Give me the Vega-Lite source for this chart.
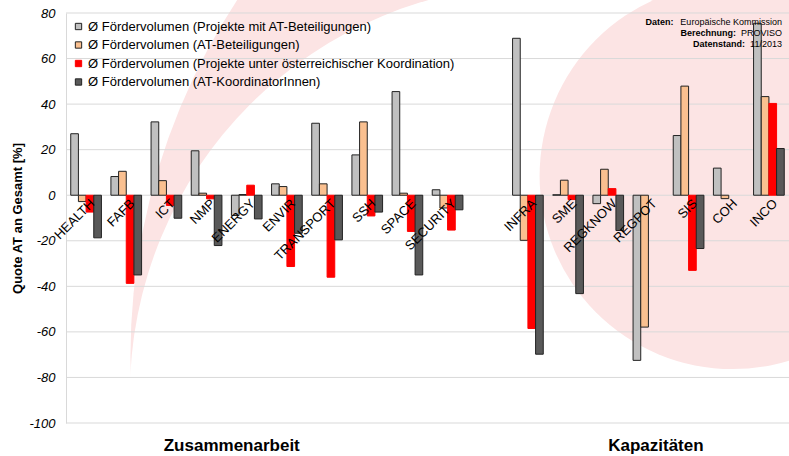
{
  "$schema": "https://vega.github.io/schema/vega-lite/v6.json",
  "width": 723,
  "height": 410,
  "autosize": {"type": "none"},
  "padding": {"left": 66, "top": 13, "right": 0, "bottom": 33},
  "background": "white",
  "config": {
    "font": "Liberation Sans",
    "view": {"stroke": null},
    "legend": {
      "orient": "none", "legendX": 6, "legendY": 7, "padding": 0,
      "symbolType": "square", "symbolSize": 40, "symbolStrokeWidth": 1,
      "labelFontSize": 13, "labelFont": "Liberation Sans", "labelColor": "#000000",
      "labelOffset": 3, "rowPadding": 4.5, "labelLimit": 0, "titlePadding": 0
    }
  },
  "datasets": {
    "bars": [
      {"cat": "HEALTH", "series": "Ø Fördervolumen (Projekte mit AT-Beteiligungen)", "val": 27.0},
      {"cat": "HEALTH", "series": "Ø Fördervolumen (AT-Beteiligungen)", "val": -2.8},
      {"cat": "HEALTH", "series": "Ø Fördervolumen (Projekte unter österreichischer Koordination)", "val": -7.4},
      {"cat": "HEALTH", "series": "Ø Fördervolumen (AT-KoordinatorInnen)", "val": -18.7},
      {"cat": "FAFB", "series": "Ø Fördervolumen (Projekte mit AT-Beteiligungen)", "val": 8.2},
      {"cat": "FAFB", "series": "Ø Fördervolumen (AT-Beteiligungen)", "val": 10.5},
      {"cat": "FAFB", "series": "Ø Fördervolumen (Projekte unter österreichischer Koordination)", "val": -38.7},
      {"cat": "FAFB", "series": "Ø Fördervolumen (AT-KoordinatorInnen)", "val": -35.0},
      {"cat": "ICT", "series": "Ø Fördervolumen (Projekte mit AT-Beteiligungen)", "val": 32.2},
      {"cat": "ICT", "series": "Ø Fördervolumen (AT-Beteiligungen)", "val": 6.4},
      {"cat": "ICT", "series": "Ø Fördervolumen (Projekte unter österreichischer Koordination)", "val": -4.5},
      {"cat": "ICT", "series": "Ø Fördervolumen (AT-KoordinatorInnen)", "val": -10.1},
      {"cat": "NMP", "series": "Ø Fördervolumen (Projekte mit AT-Beteiligungen)", "val": 19.5},
      {"cat": "NMP", "series": "Ø Fördervolumen (AT-Beteiligungen)", "val": 0.9},
      {"cat": "NMP", "series": "Ø Fördervolumen (Projekte unter österreichischer Koordination)", "val": -1.6},
      {"cat": "NMP", "series": "Ø Fördervolumen (AT-KoordinatorInnen)", "val": -22.1},
      {"cat": "ENERGY", "series": "Ø Fördervolumen (Projekte mit AT-Beteiligungen)", "val": -8.9},
      {"cat": "ENERGY", "series": "Ø Fördervolumen (AT-Beteiligungen)", "val": 0.3},
      {"cat": "ENERGY", "series": "Ø Fördervolumen (Projekte unter österreichischer Koordination)", "val": 4.4},
      {"cat": "ENERGY", "series": "Ø Fördervolumen (AT-KoordinatorInnen)", "val": -10.4},
      {"cat": "ENVIR", "series": "Ø Fördervolumen (Projekte mit AT-Beteiligungen)", "val": 5.0},
      {"cat": "ENVIR", "series": "Ø Fördervolumen (AT-Beteiligungen)", "val": 3.8},
      {"cat": "ENVIR", "series": "Ø Fördervolumen (Projekte unter österreichischer Koordination)", "val": -31.3},
      {"cat": "ENVIR", "series": "Ø Fördervolumen (AT-KoordinatorInnen)", "val": -16.7},
      {"cat": "TRANSPORT", "series": "Ø Fördervolumen (Projekte mit AT-Beteiligungen)", "val": 31.6},
      {"cat": "TRANSPORT", "series": "Ø Fördervolumen (AT-Beteiligungen)", "val": 5.0},
      {"cat": "TRANSPORT", "series": "Ø Fördervolumen (Projekte unter österreichischer Koordination)", "val": -36.0},
      {"cat": "TRANSPORT", "series": "Ø Fördervolumen (AT-KoordinatorInnen)", "val": -19.6},
      {"cat": "SSH", "series": "Ø Fördervolumen (Projekte mit AT-Beteiligungen)", "val": 17.7},
      {"cat": "SSH", "series": "Ø Fördervolumen (AT-Beteiligungen)", "val": 32.2},
      {"cat": "SSH", "series": "Ø Fördervolumen (Projekte unter österreichischer Koordination)", "val": -9.1},
      {"cat": "SSH", "series": "Ø Fördervolumen (AT-KoordinatorInnen)", "val": -7.4},
      {"cat": "SPACE", "series": "Ø Fördervolumen (Projekte mit AT-Beteiligungen)", "val": 45.5},
      {"cat": "SPACE", "series": "Ø Fördervolumen (AT-Beteiligungen)", "val": 0.9},
      {"cat": "SPACE", "series": "Ø Fördervolumen (Projekte unter österreichischer Koordination)", "val": -15.9},
      {"cat": "SPACE", "series": "Ø Fördervolumen (AT-KoordinatorInnen)", "val": -35.0},
      {"cat": "SECURITY", "series": "Ø Fördervolumen (Projekte mit AT-Beteiligungen)", "val": 2.4},
      {"cat": "SECURITY", "series": "Ø Fördervolumen (AT-Beteiligungen)", "val": -5.6},
      {"cat": "SECURITY", "series": "Ø Fördervolumen (Projekte unter österreichischer Koordination)", "val": -15.3},
      {"cat": "SECURITY", "series": "Ø Fördervolumen (AT-KoordinatorInnen)", "val": -6.4},
      {"cat": "INFRA", "series": "Ø Fördervolumen (Projekte mit AT-Beteiligungen)", "val": 68.9},
      {"cat": "INFRA", "series": "Ø Fördervolumen (AT-Beteiligungen)", "val": -19.8},
      {"cat": "INFRA", "series": "Ø Fördervolumen (Projekte unter österreichischer Koordination)", "val": -58.5},
      {"cat": "INFRA", "series": "Ø Fördervolumen (AT-KoordinatorInnen)", "val": -69.8},
      {"cat": "SME", "series": "Ø Fördervolumen (Projekte mit AT-Beteiligungen)", "val": 0.2},
      {"cat": "SME", "series": "Ø Fördervolumen (AT-Beteiligungen)", "val": 6.6},
      {"cat": "SME", "series": "Ø Fördervolumen (Projekte unter österreichischer Koordination)", "val": -1.9},
      {"cat": "SME", "series": "Ø Fördervolumen (AT-KoordinatorInnen)", "val": -43.2},
      {"cat": "REGKNOW", "series": "Ø Fördervolumen (Projekte mit AT-Beteiligungen)", "val": -3.7},
      {"cat": "REGKNOW", "series": "Ø Fördervolumen (AT-Beteiligungen)", "val": 11.4},
      {"cat": "REGKNOW", "series": "Ø Fördervolumen (Projekte unter österreichischer Koordination)", "val": 2.9},
      {"cat": "REGKNOW", "series": "Ø Fördervolumen (AT-KoordinatorInnen)", "val": -15.5},
      {"cat": "REGPOT", "series": "Ø Fördervolumen (Projekte mit AT-Beteiligungen)", "val": -72.5},
      {"cat": "REGPOT", "series": "Ø Fördervolumen (AT-Beteiligungen)", "val": -57.9},
      {"cat": "SIS", "series": "Ø Fördervolumen (Projekte mit AT-Beteiligungen)", "val": 26.2},
      {"cat": "SIS", "series": "Ø Fördervolumen (AT-Beteiligungen)", "val": 47.9},
      {"cat": "SIS", "series": "Ø Fördervolumen (Projekte unter österreichischer Koordination)", "val": -33.0},
      {"cat": "SIS", "series": "Ø Fördervolumen (AT-KoordinatorInnen)", "val": -23.4},
      {"cat": "COH", "series": "Ø Fördervolumen (Projekte mit AT-Beteiligungen)", "val": 11.9},
      {"cat": "COH", "series": "Ø Fördervolumen (AT-Beteiligungen)", "val": -1.5},
      {"cat": "INCO", "series": "Ø Fördervolumen (Projekte mit AT-Beteiligungen)", "val": 75.5},
      {"cat": "INCO", "series": "Ø Fördervolumen (AT-Beteiligungen)", "val": 43.3},
      {"cat": "INCO", "series": "Ø Fördervolumen (Projekte unter österreichischer Koordination)", "val": 40.3},
      {"cat": "INCO", "series": "Ø Fördervolumen (AT-KoordinatorInnen)", "val": 20.5}
    ],
    "grid": [
      {"v": -100}, {"v": -80}, {"v": -60}, {"v": -40}, {"v": -20},
      {"v": 0}, {"v": 20}, {"v": 40}, {"v": 60}, {"v": 80}
    ],
    "one": [{"k": 1}]
  },
  "layer": [
    {
      "data": {"name": "one"},
      "mark": {"type": "circle", "size": 1690000, "fill": "#fce4e4", "opacity": 1, "strokeWidth": 0},
      "encoding": {
        "x": {
          "datum": "INCO", "type": "nominal", "axis": null,
          "scale": {
            "domain": ["HEALTH", "FAFB", "ICT", "NMP", "ENERGY", "ENVIR", "TRANSPORT", "SSH", "SPACE", "SECURITY", "_gap", "INFRA", "SME", "REGKNOW", "REGPOT", "SIS", "COH", "INCO"],
            "paddingInner": 0.236, "paddingOuter": 0.118
          }
        },
        "xOffset": {
          "datum": "Ø Fördervolumen (AT-KoordinatorInnen)", "type": "nominal",
          "scale": {
            "domain": ["Ø Fördervolumen (Projekte mit AT-Beteiligungen)", "Ø Fördervolumen (AT-Beteiligungen)", "Ø Fördervolumen (Projekte unter österreichischer Koordination)", "Ø Fördervolumen (AT-KoordinatorInnen)"],
            "paddingInner": 0, "paddingOuter": 0
          }
        },
        "y": {
          "datum": -71, "type": "quantitative",
          "scale": {"domain": [-100, 80], "nice": false},
          "axis": {
            "values": [-100, -80, -60, -40, -20, 0, 20, 40, 60, 80],
            "labelExpr": "'' + datum.value",
            "grid": false, "ticks": false,
            "domain": true, "domainColor": "#d9d9d9", "domainWidth": 1,
            "labelFontSize": 13, "labelFontStyle": "italic", "labelColor": "#000000",
            "labelPadding": 11, "labelFont": "Liberation Sans",
            "title": "Quote AT an Gesamt [%]",
            "titleFontSize": 13, "titleFontWeight": "bold", "titleColor": "#000000",
            "titleFont": "Liberation Sans",
            "titleX": -49, "titleY": 205, "titleAngle": -90,
            "titleAlign": "center", "titleBaseline": "middle"
          }
        }
      }
    },
    {
      "data": {"name": "one"},
      "mark": {"type": "circle", "size": 671000, "fill": "#ffffff", "opacity": 1, "strokeWidth": 0},
      "encoding": {
        "x": {"datum": "INFRA", "type": "nominal", "axis": null},
        "xOffset": {"datum": "Ø Fördervolumen (AT-KoordinatorInnen)", "type": "nominal"},
        "y": {"datum": -87.4, "type": "quantitative"}
      }
    },
    {
      "data": {"name": "one"},
      "mark": {"type": "circle", "size": 148996, "fill": "#fce4e4", "opacity": 1, "strokeWidth": 0},
      "encoding": {
        "x": {"datum": "COH", "type": "nominal", "axis": null},
        "xOffset": {"datum": "Ø Fördervolumen (Projekte unter österreichischer Koordination)", "type": "nominal"},
        "y": {"datum": 8.4, "type": "quantitative"}
      }
    },
    {
      "data": {"name": "grid"},
      "mark": {"type": "rule", "color": "#d9d9d9", "strokeWidth": 1},
      "encoding": {
        "y": {"field": "v", "type": "quantitative"}
      }
    },
    {
      "data": {"name": "bars"},
      "mark": {"type": "bar", "strokeWidth": 1},
      "encoding": {
        "x": {"field": "cat", "type": "nominal", "axis": null},
        "xOffset": {"field": "series", "type": "nominal"},
        "y": {"field": "val", "type": "quantitative"},
        "fill": {
          "field": "series", "type": "nominal",
          "scale": {
            "domain": ["Ø Fördervolumen (Projekte mit AT-Beteiligungen)", "Ø Fördervolumen (AT-Beteiligungen)", "Ø Fördervolumen (Projekte unter österreichischer Koordination)", "Ø Fördervolumen (AT-KoordinatorInnen)"],
            "range": ["#c0c0c0", "#fac090", "#ff0000", "#595959"]
          },
          "legend": {"title": null}
        },
        "stroke": {
          "field": "series", "type": "nominal",
          "scale": {
            "domain": ["Ø Fördervolumen (Projekte mit AT-Beteiligungen)", "Ø Fördervolumen (AT-Beteiligungen)", "Ø Fördervolumen (Projekte unter österreichischer Koordination)", "Ø Fördervolumen (AT-KoordinatorInnen)"],
            "range": ["#222222", "#222222", "#ff0000", "#222222"]
          },
          "legend": {"title": null}
        }
      }
    },
    {
      "data": {"name": "bars"},
      "transform": [{"filter": "datum.series === 'Ø Fördervolumen (Projekte mit AT-Beteiligungen)'"}],
      "mark": {"type": "text", "angle": -45, "align": "right", "baseline": "top", "dy": 3, "fontSize": 13, "color": "#000000", "font": "Liberation Sans"},
      "encoding": {
        "x": {"field": "cat", "type": "nominal", "axis": null},
        "y": {"datum": 0, "type": "quantitative"},
        "text": {"field": "cat", "type": "nominal"}
      }
    },
    {
      "data": {"name": "one"},
      "mark": {"type": "text", "align": "center", "baseline": "alphabetic", "dx": -15, "dy": 28, "fontSize": 17, "fontWeight": "bold", "color": "#000000", "text": "Zusammenarbeit"},
      "encoding": {
        "x": {"datum": "ENERGY", "type": "nominal", "axis": null},
        "y": {"datum": -100, "type": "quantitative"}
      }
    },
    {
      "data": {"name": "one"},
      "mark": {"type": "text", "align": "center", "baseline": "alphabetic", "dx": 7.5, "dy": 28, "fontSize": 17, "fontWeight": "bold", "color": "#000000", "text": "Kapazitäten"},
      "encoding": {
        "x": {"datum": "REGPOT", "type": "nominal", "axis": null},
        "y": {"datum": -100, "type": "quantitative"}
      }
    },
    {
      "data": {"name": "one"},
      "mark": {"type": "text", "align": "right", "baseline": "alphabetic", "dx": 13, "dy": 12, "fontSize": 9, "lineHeight": 11, "color": "#000000", "text": ["Europäische Kommission", "PROVISO", "11/2013"]},
      "encoding": {
        "x": {"datum": "INCO", "type": "nominal", "axis": null},
        "y": {"datum": 80, "type": "quantitative"}
      }
    },
    {
      "data": {"name": "one"},
      "mark": {"type": "text", "align": "right", "baseline": "alphabetic", "dx": -95.5, "dy": 12, "fontSize": 9, "fontWeight": "bold", "color": "#000000", "text": "Daten:"},
      "encoding": {
        "x": {"datum": "INCO", "type": "nominal", "axis": null},
        "y": {"datum": 80, "type": "quantitative"}
      }
    },
    {
      "data": {"name": "one"},
      "mark": {"type": "text", "align": "right", "baseline": "alphabetic", "dx": -32.8, "dy": 23, "fontSize": 9, "fontWeight": "bold", "color": "#000000", "text": "Berechnung:"},
      "encoding": {
        "x": {"datum": "INCO", "type": "nominal", "axis": null},
        "y": {"datum": 80, "type": "quantitative"}
      }
    },
    {
      "data": {"name": "one"},
      "mark": {"type": "text", "align": "right", "baseline": "alphabetic", "dx": -23.8, "dy": 34, "fontSize": 9, "fontWeight": "bold", "color": "#000000", "text": "Datenstand:"},
      "encoding": {
        "x": {"datum": "INCO", "type": "nominal", "axis": null},
        "y": {"datum": 80, "type": "quantitative"}
      }
    }
  ]
}
